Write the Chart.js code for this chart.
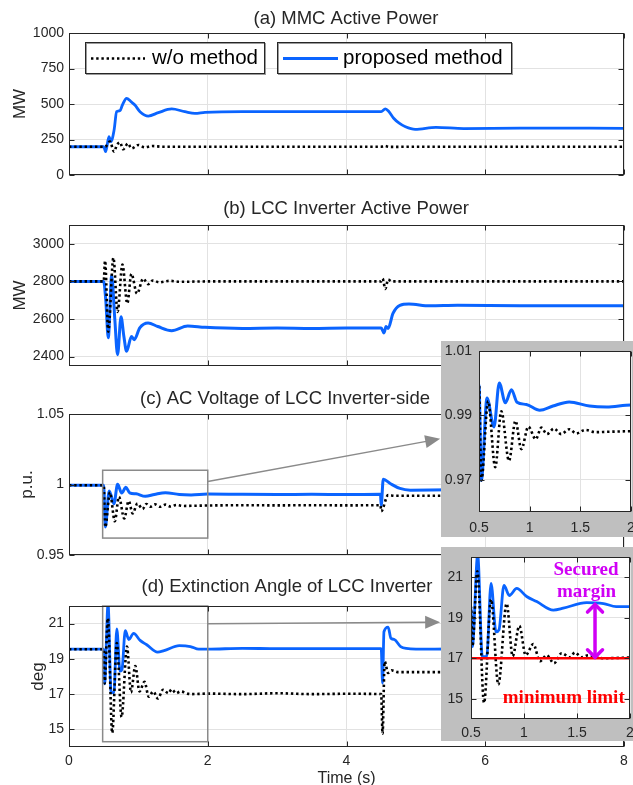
<!DOCTYPE html>
<html><head><meta charset="utf-8">
<script src="https://cdn.jsdelivr.net/npm/chart.js@4.4.1/dist/chart.umd.min.js"></script>
<style>
html,body{margin:0;padding:0;background:#fff;}
#wrap{position:relative;width:633px;height:785px;overflow:hidden;background:#fff;}
canvas{position:absolute;left:0;top:0;}
</style></head><body><div id="wrap">
<canvas id="cA" width="633" height="785"></canvas>
<canvas id="cB" width="633" height="785"></canvas>
<canvas id="cC" width="633" height="785"></canvas>
<canvas id="cD" width="633" height="785"></canvas>
<canvas id="cI1" width="633" height="785"></canvas>
<canvas id="cI2" width="633" height="785"></canvas>
</div>
<script>
// ---------------- DATA ----------------
const seriesNames = ['w/o method', 'proposed method'];
const panelTitles = ['(a) MMC Active Power', '(b) LCC Inverter Active Power', '(c) AC Voltage of LCC Inverter-side', '(d) Extinction Angle of LCC Inverter'];
const yLabels = ['MW', 'MW', 'p.u.', 'deg'];
const xLabel = 'Time (s)';
const timeTicks = [0, 2, 4, 6, 8];
const insetTimeTicks = [0.5, 1, 1.5, 2];
const ticksA = [0, 250, 500, 750, 1000];
const ticksB = [2400, 2600, 2800, 3000];
const ticksC = [0.95, 1, 1.05];
const ticksD = [15, 17, 19, 21];
const ticksInsetC = [0.97, 0.99, 1.01];
const ticksInsetD = [15, 17, 19, 21];

// (a) MMC active power
const tA_prop = [0, 0.5, 0.528, 0.576, 0.605, 0.65, 0.687, 0.735, 0.77, 0.83, 0.893, 0.95, 1.023, 1.143, 1.287, 1.48, 1.67, 1.815, 1.96, 2.5, 3.0, 3.5, 4.0, 4.5, 4.56, 4.61, 4.68, 4.76, 4.85, 4.99, 5.29, 5.69, 6.5, 8.0];
const aProp   = [199, 199, 164, 270, 235, 317, 446, 453, 493, 540, 517, 493, 446, 415, 439, 465, 446, 434, 441, 447, 446, 447, 446, 447, 466, 447, 400, 365, 340, 322, 336, 327, 330, 329];
const tA_wo = [0, 0.5, 0.54, 0.59, 0.65, 0.69, 0.735, 0.78, 0.85, 0.9, 1.0, 1.09, 1.2, 1.35, 2, 3, 4, 4.5, 4.55, 4.62, 5, 6, 7, 8];
const aWo   = [199, 199, 205, 235, 164, 211, 230, 181, 222, 187, 211, 195, 204, 199, 199, 199, 199, 199, 205, 198, 199, 199, 199, 199];

// (b) LCC inverter active power
const tB_prop = [0, 0.5, 0.53, 0.566, 0.615, 0.66, 0.7, 0.75, 0.79, 0.83, 0.9, 0.94, 1.02, 1.14, 1.28, 1.48, 1.71, 1.96, 2.5, 3, 3.5, 4, 4.5, 4.54, 4.57, 4.6, 4.67, 4.77, 4.9, 5.2, 5.6, 6.5, 8];
const bProp   = [2800, 2800, 2700, 2500, 2830, 2600, 2410, 2612, 2510, 2428, 2507, 2490, 2553, 2579, 2560, 2538, 2563, 2556, 2550, 2552, 2550, 2552, 2552, 2526, 2560, 2550, 2630, 2673, 2680, 2670, 2673, 2670, 2670];
const tB_wo = [0, 0.5, 0.52, 0.566, 0.64, 0.7, 0.77, 0.84, 0.9, 0.98, 1.07, 1.14, 1.21, 1.3, 1.45, 1.6, 2, 3, 4, 4.5, 4.52, 4.56, 4.6, 4.65, 5, 6, 7, 8];
const bWo   = [2800, 2800, 2910, 2533, 2926, 2638, 2890, 2683, 2840, 2735, 2815, 2785, 2805, 2795, 2803, 2798, 2800, 2800, 2800, 2800, 2815, 2760, 2810, 2800, 2800, 2800, 2800, 2800];

// (c) AC voltage
const tC_prop = [0, 0.5, 0.523, 0.579, 0.648, 0.7, 0.76, 0.82, 0.875, 0.967, 1.1, 1.23, 1.39, 1.59, 1.76, 2.0, 2.5, 3.0, 3.5, 4.0, 4.49, 4.5, 4.53, 4.63, 4.77, 4.92, 5.5, 6.5, 8];
const cProp   = [0.9995, 0.9995, 0.9698, 0.9954, 0.9864, 1.0001, 0.9939, 0.998, 0.9941, 0.9934, 0.9916, 0.9929, 0.9942, 0.9929, 0.9926, 0.9932, 0.993, 0.9929, 0.993, 0.9929, 0.993, 0.985, 1.0037, 1.0007, 0.9972, 0.996, 0.9962, 0.9962, 0.9962];
const tC_wo = [0, 0.5, 0.523, 0.59, 0.66, 0.72, 0.796, 0.86, 0.918, 0.987, 1.06, 1.115, 1.17, 1.24, 1.31, 1.39, 1.46, 1.55, 1.65, 1.76, 2.0, 2.5, 3, 3.5, 4, 4.49, 4.5, 4.6, 4.7, 5, 6, 7, 8];
const cWo   = [0.9995, 0.9995, 0.9698, 0.9944, 0.9739, 0.9913, 0.9759, 0.9883, 0.9795, 0.9865, 0.9826, 0.9862, 0.9842, 0.9859, 0.9842, 0.9857, 0.9844, 0.9855, 0.9848, 0.9849, 0.9851, 0.9853, 0.9852, 0.9853, 0.9852, 0.9853, 0.981, 0.9925, 0.992, 0.992, 0.992, 0.992, 0.992];

// (d) extinction angle
const tD_prop = [0, 0.5, 0.513, 0.563, 0.607, 0.648, 0.689, 0.736, 0.764, 0.811, 0.862, 0.931, 1.025, 1.12, 1.277, 1.37, 1.59, 1.75, 1.87, 2.0, 2.5, 3.0, 3.5, 4.0, 4.5, 4.52, 4.54, 4.6, 4.64, 4.69, 4.78, 4.86, 5.2, 6, 7, 8];
const dProp   = [19.55, 19.55, 17.58, 22.1, 17.08, 17.08, 20.7, 18.3, 18.4, 20.6, 20.1, 20.45, 20.05, 19.8, 19.38, 19.47, 19.75, 19.7, 19.55, 19.55, 19.6, 19.58, 19.58, 19.58, 19.58, 17.63, 20.54, 20.8, 20.17, 20.1, 19.7, 19.6, 19.55, 19.6, 19.6, 19.6];
const tD_wo = [0, 0.5, 0.513, 0.56, 0.623, 0.689, 0.758, 0.836, 0.893, 0.956, 1.016, 1.088, 1.15, 1.214, 1.283, 1.355, 1.434, 1.48, 1.544, 1.607, 1.75, 2.0, 2.5, 3.0, 3.5, 4.0, 4.5, 4.52, 4.55, 4.6, 4.65, 4.75, 5.0, 6, 7, 8];
const dWo   = [19.55, 19.55, 17.6, 21.3, 14.8, 19.9, 15.7, 19.7, 17.1, 18.6, 17.15, 17.7, 16.85, 17.15, 16.75, 17.25, 17.05, 17.28, 17.05, 17.15, 17.0, 17.03, 17.0, 17.05, 17.0, 17.02, 17.0, 14.75, 18.85, 18.2, 18.35, 18.25, 18.25, 18.25, 18.25, 18.25];

// annotation values (data coordinates)
const minimumLimit = 17;
const marginTime = 1.67;
const marginTop = 19.7;
const annotationTexts = ['Secured', 'margin', 'minimum limit'];

// ---------------- STYLE ----------------
const FONT = '"Liberation Sans", Arial, Helvetica, sans-serif';
const SERIF = '"Liberation Serif", "Times New Roman", serif';
const TXT = '#262626';
const BLUE = '#0a64ff';
const GRID = '#e2e2e2';
const GRAYBG = '#bfbfbf';
const MAGENTA = '#d000f5';
const W = 633, H = 785;

function pts(t, v) { return t.map((x, i) => ({ x: x, y: v[i] })); }
function fmt(v) { return String(Math.round(v * 10000) / 10000); }

function arrowHead(ctx, x1, y1, x2, y2, len, hw) {
  const ang = Math.atan2(y2 - y1, x2 - x1);
  ctx.beginPath();
  ctx.moveTo(x2, y2);
  ctx.lineTo(x2 - len * Math.cos(ang) + hw * Math.sin(ang), y2 - len * Math.sin(ang) - hw * Math.cos(ang));
  ctx.lineTo(x2 - len * Math.cos(ang) - hw * Math.sin(ang), y2 - len * Math.sin(ang) + hw * Math.cos(ang));
  ctx.closePath();
  ctx.fill();
}

const decoPlugin = {
  id: 'deco',
  beforeDraw(chart, args, o) {
    const ctx = chart.ctx, a = chart.chartArea;
    if (o.bg) {
      ctx.save();
      ctx.fillStyle = GRAYBG;
      ctx.fillRect(o.bg[0], o.bg[1], o.bg[2], o.bg[3]);
      ctx.fillStyle = '#fff';
      ctx.fillRect(a.left, a.top, a.right - a.left, a.bottom - a.top);
      ctx.restore();
    }
  },
  afterDatasetsDraw(chart, args, o) {
    const ctx = chart.ctx, a = chart.chartArea, xs = chart.scales.x, ys = chart.scales.y;
    const X = v => xs.getPixelForValue(v), Y = v => ys.getPixelForValue(v);
    ctx.save();
    if (o.hline) {
      ctx.strokeStyle = '#ff0000'; ctx.lineWidth = 2.5;
      ctx.beginPath(); ctx.moveTo(X(o.hline.x0), Y(o.hline.y)); ctx.lineTo(X(o.hline.x1), Y(o.hline.y)); ctx.stroke();
    }
    if (o.rect) {
      ctx.strokeStyle = '#8a8a8a'; ctx.lineWidth = 1.5;
      const r = o.rect;
      ctx.strokeRect(X(r[0]), Y(r[3]), X(r[1]) - X(r[0]), Y(r[2]) - Y(r[3]));
    }
    if (o.arrow) {
      const r = o.arrow;
      const x1 = X(r[0]), y1 = Y(r[1]), x2 = X(r[2]), y2 = Y(r[3]);
      const ang = Math.atan2(y2 - y1, x2 - x1);
      ctx.strokeStyle = '#8a8a8a'; ctx.fillStyle = '#8a8a8a'; ctx.lineWidth = 1.5;
      ctx.beginPath(); ctx.moveTo(x1, y1); ctx.lineTo(x2 - 10 * Math.cos(ang), y2 - 10 * Math.sin(ang)); ctx.stroke();
      arrowHead(ctx, x1, y1, x2, y2, 15, 6.5);
    }
    if (o.dArrow) {
      const r = o.dArrow;
      const x = X(r.x), yt = Y(r.y1), yb = Y(r.y0);
      ctx.strokeStyle = MAGENTA; ctx.lineWidth = 3.5; ctx.lineCap = 'round';
      ctx.beginPath(); ctx.moveTo(x, yt + 1); ctx.lineTo(x, yb - 1); ctx.stroke();
      ctx.beginPath();
      ctx.moveTo(x - 7.5, yt + 8.5); ctx.lineTo(x, yt + 1); ctx.lineTo(x + 7.5, yt + 8.5);
      ctx.moveTo(x - 7.5, yb - 8.5); ctx.lineTo(x, yb - 1); ctx.lineTo(x + 7.5, yb - 8.5);
      ctx.stroke();
      ctx.lineCap = 'butt';
    }
    // axes box
    ctx.strokeStyle = TXT; ctx.lineWidth = 1;
    const L = Math.round(a.left) + 0.5, R = Math.round(a.right) - 0.5, T = Math.round(a.top) + 0.5, B = Math.round(a.bottom) - 0.5;
    ctx.strokeRect(L, T, R - L, B - T);
    // inner ticks
    const tl = o.tickLen || 5;
    ctx.beginPath();
    xs.ticks.forEach(t => {
      const px = Math.round(X(t.value)) + 0.5;
      ctx.moveTo(px, B); ctx.lineTo(px, B - tl);
      ctx.moveTo(px, T); ctx.lineTo(px, T + tl);
    });
    ys.ticks.forEach(t => {
      const py = Math.round(Y(t.value)) + 0.5;
      ctx.moveTo(L, py); ctx.lineTo(L + tl, py);
      ctx.moveTo(R, py); ctx.lineTo(R - tl, py);
    });
    ctx.stroke();
    ctx.restore();
  },
  afterDraw(chart, args, o) {
    const ctx = chart.ctx, a = chart.chartArea, xs = chart.scales.x, ys = chart.scales.y;
    const X = v => xs.getPixelForValue(v), Y = v => ys.getPixelForValue(v);
    ctx.save();
    ctx.fillStyle = TXT;
    if (o.title) {
      ctx.font = '18.5px ' + FONT; ctx.textAlign = 'center'; ctx.textBaseline = 'middle';
      ctx.fillText(o.title.text, o.title.x, o.title.y);
    }
    if (o.ylabel) {
      ctx.save();
      ctx.translate(o.ylabel.x, (a.top + a.bottom) / 2);
      ctx.rotate(-Math.PI / 2);
      ctx.font = '17px ' + FONT; ctx.textAlign = 'center'; ctx.textBaseline = 'middle';
      ctx.fillText(o.ylabel.text, 0, 0);
      ctx.restore();
    }
    if (o.xlabel) {
      ctx.font = '16px ' + FONT; ctx.textAlign = 'center'; ctx.textBaseline = 'alphabetic';
      ctx.fillText(o.xlabel.text, (a.left + a.right) / 2, o.xlabel.y);
    }
    if (o.legend) {
      const lg = o.legend;
      ctx.lineWidth = 1;
      lg.boxes.forEach((b, i) => {
        ctx.fillStyle = '#fff';
        ctx.fillRect(b[0], b[1], b[2] - b[0], b[3] - b[1]);
        ctx.strokeStyle = '#9a9a9a';
        ctx.strokeRect(b[0] + 1.5, b[1] + 1.5, b[2] - b[0], b[3] - b[1]);
        ctx.strokeStyle = TXT;
        ctx.strokeRect(b[0] + 0.5, b[1] + 0.5, b[2] - b[0], b[3] - b[1]);
      });
      const ym = (lg.boxes[0][1] + lg.boxes[0][3]) / 2 + 1;
      chart.data.datasets.forEach((ds, i) => {
        const s = lg.samples[i];
        ctx.save();
        ctx.strokeStyle = ds.borderColor; ctx.lineWidth = ds.borderWidth;
        if (ds.borderDash) ctx.setLineDash(ds.borderDash);
        ctx.beginPath(); ctx.moveTo(s[0], ym); ctx.lineTo(s[1], ym); ctx.stroke();
        ctx.restore();
        ctx.fillStyle = '#000';
        ctx.font = '20.5px ' + FONT; ctx.textAlign = 'left'; ctx.textBaseline = 'middle';
        ctx.fillText(ds.label, s[2], ym);
      });
    }
    if (o.notes) {
      o.notes.forEach(n => {
        ctx.fillStyle = n.color;
        ctx.font = 'bold 19px ' + SERIF; ctx.textAlign = 'center'; ctx.textBaseline = 'middle';
        ctx.fillText(n.text, X(n.x), Y(n.y));
      });
    }
    ctx.restore();
  }
};

function build(id, p) {
  const yW = p.area.l - p.padL;
  const xH = 30;
  return new Chart(document.getElementById(id), {
    type: 'line',
    data: { datasets: p.datasets },
    options: {
      responsive: false, maintainAspectRatio: false, animation: false, devicePixelRatio: 1, events: [],
      layout: { padding: { left: p.padL, top: p.area.t, right: W - p.area.r, bottom: H - p.area.b - xH } },
      elements: { point: { radius: 0 } },
      plugins: { legend: { display: false }, tooltip: { enabled: false }, title: { display: false }, deco: p.deco },
      scales: {
        x: {
          type: 'linear', min: p.xMin, max: p.xMax,
          afterBuildTicks: s => { s.ticks = p.xTicks.map(v => ({ value: v })); },
          afterFit: s => { s.height = xH; s.paddingLeft = 0; s.paddingRight = 0; },
          grid: { color: GRID, drawTicks: false, lineWidth: 1 },
          border: { display: false },
          ticks: { display: p.showX, font: { family: FONT, size: 14 }, color: TXT, padding: p.xPad || 5, maxRotation: 0, autoSkip: false, callback: v => fmt(v) }
        },
        y: {
          type: 'linear', min: p.yMin, max: p.yMax,
          afterBuildTicks: s => { s.ticks = p.yTicks.map(v => ({ value: v })); },
          afterFit: s => { s.width = yW; s.paddingTop = 0; s.paddingBottom = 0; },
          grid: { color: GRID, drawTicks: false, lineWidth: 1 },
          border: { display: false },
          ticks: { font: { family: FONT, size: 14 }, color: TXT, padding: p.yPad || 5, autoSkip: false, callback: v => fmt(v) }
        }
      }
    },
    plugins: [decoPlugin]
  });
}

function sets(tWo, vWo, tProp, vProp, bw) {
  return [
    { label: seriesNames[0], data: pts(tWo, vWo), borderColor: '#000', borderWidth: 2.6, borderDash: [2.4, 2.8], pointRadius: 0, cubicInterpolationMode: 'monotone', order: 0 },
    { label: seriesNames[1], data: pts(tProp, vProp), borderColor: BLUE, borderWidth: bw || 2.8, pointRadius: 0, cubicInterpolationMode: 'monotone', order: 1 }
  ];
}

const mainArea = (t, b) => ({ l: 69, r: 624, t: t, b: b });

build('cA', {
  area: mainArea(33, 175), padL: 0, xMin: 0, xMax: 8, xTicks: timeTicks, showX: false,
  yMin: 0, yMax: 1000, yTicks: ticksA,
  datasets: sets(tA_wo, aWo, tA_prop, aProp),
  deco: {
    title: { text: panelTitles[0], x: 346, y: 19 },
    ylabel: { text: yLabels[0], x: 20 },
    legend: { boxes: [[85, 42, 264, 73], [277, 42, 511, 73]], samples: [[91, 145, 152], [283, 338, 343]] }
  }
});
build('cB', {
  area: mainArea(225, 366), padL: 0, xMin: 0, xMax: 8, xTicks: timeTicks, showX: false,
  yMin: 2350, yMax: 3100, yTicks: ticksB,
  datasets: sets(tB_wo, bWo, tB_prop, bProp, 3),
  deco: { title: { text: panelTitles[1], x: 346, y: 209 }, ylabel: { text: yLabels[1], x: 20 } }
});
build('cC', {
  area: mainArea(414, 555), padL: 0, xMin: 0, xMax: 8, xTicks: timeTicks, showX: false,
  yMin: 0.95, yMax: 1.05, yTicks: ticksC,
  datasets: sets(tC_wo, cWo, tC_prop, cProp, 3),
  deco: {
    title: { text: panelTitles[2], x: 285, y: 399 }, ylabel: { text: yLabels[2], x: 27 },
    rect: [0.485, 2.0, 0.962, 1.0101], arrow: [2.0, 1.0021, 5.35, 1.0324]
  }
});
build('cD', {
  area: mainArea(606, 747), padL: 0, xMin: 0, xMax: 8, xTicks: timeTicks, showX: true, xPad: 6,
  yMin: 14, yMax: 22, yTicks: ticksD,
  datasets: sets(tD_wo, dWo, tD_prop, dProp, 2.8),
  deco: {
    title: { text: panelTitles[3], x: 287, y: 587 }, ylabel: { text: yLabels[3], x: 38 },
    xlabel: { text: xLabel, y: 783 },
    rect: [0.485, 2.0, 14.3, 22.0], arrow: [2.0, 21.0, 5.35, 21.08]
  }
});
build('cI1', {
  area: { l: 479, r: 631, t: 351, b: 512 }, padL: 441, xMin: 0.5, xMax: 2, xTicks: insetTimeTicks, showX: true, xPad: 8, yPad: 7,
  yMin: 0.96, yMax: 1.01, yTicks: ticksInsetC,
  datasets: sets(tC_wo, cWo, tC_prop, cProp, 3),
  deco: { bg: [441, 341, 192, 196] }
});
build('cI2', {
  area: { l: 471, r: 630, t: 557, b: 719 }, padL: 441, xMin: 0.5, xMax: 2, xTicks: insetTimeTicks, showX: true, xPad: 6, yPad: 8,
  yMin: 14, yMax: 22, yTicks: ticksInsetD,
  datasets: sets(tD_wo, dWo, tD_prop, dProp, 2.8),
  deco: {
    bg: [441, 547, 192, 194],
    hline: { y: minimumLimit, x0: 0.5, x1: 2 },
    dArrow: { x: marginTime, y0: minimumLimit, y1: marginTop },
    notes: [
      { text: annotationTexts[0], x: 1.585, y: 21.36, color: MAGENTA },
      { text: annotationTexts[1], x: 1.59, y: 20.27, color: MAGENTA },
      { text: annotationTexts[2], x: 1.375, y: 15.04, color: '#ff0000' }
    ]
  }
});
</script>
</body></html>
